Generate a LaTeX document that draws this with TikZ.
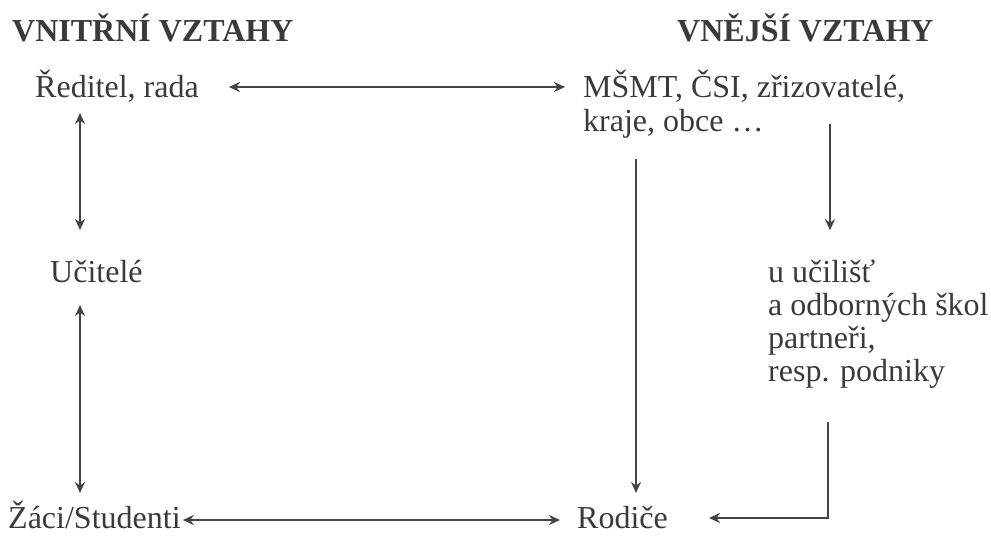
\documentclass[tikz,border=0pt]{standalone}
\usepackage{fontspec}
\setmainfont{Liberation Serif}
\usetikzlibrary{arrows.meta}
\definecolor{ink}{HTML}{3A3A3A}
\definecolor{wire}{HTML}{444444}

\begin{document}
\begin{tikzpicture}[x=1pt,y=-1pt,
  every node/.style={inner sep=0pt,text=ink,font=\fontsize{32}{33}\selectfont},
  head/.style={font=\fontsize{32}{33}\selectfont\bfseries},
  rel/.style={draw=wire,line width=2pt,-{Stealth[length=11pt,width=10pt]}},
  both/.style={rel,{Stealth[length=11pt,width=10pt]}-{Stealth[length=11pt,width=10pt]}}]

\useasboundingbox (0,0) rectangle (991,543);

% the two headings
\node[head,anchor=base west] (inner) at (12,42) {VNITŘNÍ VZTAHY};
\node[head,anchor=base west] (outer) at (677,42) {VNĚJŠÍ VZTAHY};

% inner side
\node[anchor=base west] (red) at (35,98) {Ředitel, rada};
\node[anchor=base west] (uc) at (50,282) {Učitelé};
\node[anchor=base west] (zaci) at (8,528) {Žáci/Studenti};

% outer side (base = last line)
\node[anchor=base west,align=left] (msmt) at (583,131)
  {MŠMT, ČSI, zřizovatelé,\\kraje, obce …};
\node[anchor=base west,align=left] (ucil) at (768,381)
  {u učilišť\\a odborných škol\\partneři,\\resp. podniky};
\node[anchor=base west] (rod) at (577,528) {Rodiče};

% top: school <-> authorities
\draw[both] ([xshift=30pt,yshift=11pt]red.base east) -- ([xshift=-18pt,yshift=44pt]msmt.base west);

% left column
\draw[both] ([xshift=45pt,yshift=-15pt]red.base west) -- ([xshift=30pt,yshift=52pt]uc.base west);
\draw[both] ([xshift=30pt,yshift=-23pt]uc.base west) -- ([xshift=72pt,yshift=35pt]zaci.base west);

% bottom: pupils <-> parents
\draw[both] ([xshift=2pt,yshift=8pt]zaci.base east) -- ([xshift=-17pt,yshift=8pt]rod.base west);

% authorities down to parents and to partners
\draw[rel] ([xshift=53pt,yshift=-21pt]msmt.south west) -- ([xshift=59pt,yshift=35pt]rod.base west);
\draw[rel] ([xshift=247pt,yshift=14pt]msmt.south west) -- ([xshift=62pt,yshift=29pt]ucil.north west);

% partners round to parents
\draw[rel] ([xshift=60pt,yshift=-34pt]ucil.south west) |- ([xshift=41pt,yshift=10pt]rod.base east);
\end{tikzpicture}
\end{document}
